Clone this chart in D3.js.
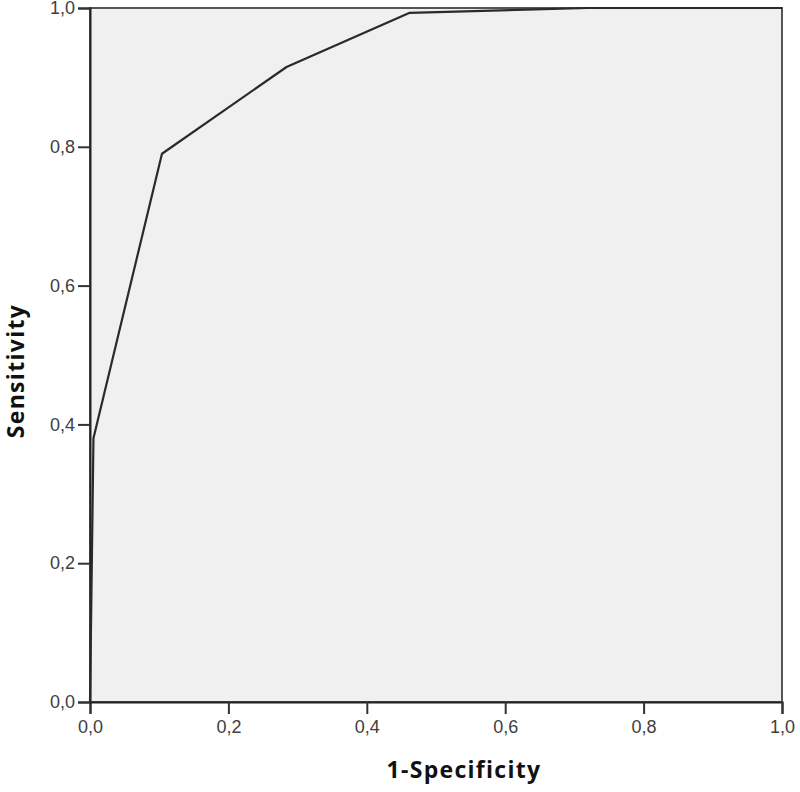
<!DOCTYPE html>
<html>
<head>
<meta charset="utf-8">
<script src="https://cdn.jsdelivr.net/npm/d3@7"></script>
<style>
  body { margin: 0; background: #fff; }
</style>
</head>
<body>
<div id="chart"></div>
<script>
// ROC curve points
var fpr = [0, 0.005, 0.104, 0.284, 0.462, 0.72, 1.0];
var tpr = [0, 0.38, 0.79, 0.915, 0.993, 1.0, 1.0];
var tick_values = [0, 0.2, 0.4, 0.6, 0.8, 1.0];
var x_title = "1-Specificity";
var y_title = "Sensitivity";

var W = 800, H = 792;
var margin = ({top: 8, right: 18, bottom: 90, left: 90});

var x = d3.scaleLinear()
    .domain([0, 1])
    .range([margin.left, W - margin.right]);
var y = d3.scaleLinear()
    .domain([0, 1])
    .range([H - margin.bottom, margin.top]);

var fmt = d => d3.format(".1f")(d).replace(".", ",");

const svg = d3.select("#chart")
    .append("svg")
    .attr("width", W)
    .attr("height", H)
    .attr("viewBox", [0, 0, W, H]);

// plot background + frame
svg.append("rect")
    .attr("x", x(0))
    .attr("y", y(1))
    .attr("width", x(1) - x(0))
    .attr("height", y(0) - y(1))
    .attr("fill", "#f0f0f0")
    .attr("stroke", "#555")
    .attr("stroke-width", 2);

var styleTicks = g => g.selectAll(".tick text")
    .attr("fill", "#404040")
    .style("font-family", "'Liberation Sans', Arial, sans-serif")
    .style("font-size", "18px");

var xAxis = g => g
    .attr("transform", `translate(0,${y(0)})`)
    .call(d3.axisBottom(x).tickValues(tick_values).tickFormat(fmt).tickSize(12).tickPadding(6))
    .call(g => g.select(".domain").attr("stroke", "#222").attr("stroke-width", 2))
    .call(g => g.selectAll(".tick line").attr("stroke", "#333").attr("stroke-width", 2))
    .call(styleTicks);

var yAxis = g => g
    .attr("transform", `translate(${x(0)},0)`)
    .call(d3.axisLeft(y).tickValues(tick_values).tickFormat(fmt).tickSize(12).tickPadding(3))
    .call(g => g.select(".domain").attr("stroke", "#222").attr("stroke-width", 2))
    .call(g => g.selectAll(".tick line").attr("stroke", "#333").attr("stroke-width", 2))
    .call(styleTicks);

svg.append("g").call(xAxis);
svg.append("g").call(yAxis);

// curve
var pts = fpr.map((d, i) => [d, tpr[i]]);
svg.append("path")
    .datum(pts)
    .attr("fill", "none")
    .attr("stroke", "#2a2a2a")
    .attr("stroke-width", 2.2)
    .attr("stroke-linejoin", "round")
    .attr("d", d3.line().x(d => x(d[0])).y(d => y(d[1])));

// axis titles
svg.append("text")
    .attr("x", 464)
    .attr("y", 778)
    .attr("text-anchor", "middle")
    .style("font-family", "'Open Sans', sans-serif")
    .style("font-weight", "bold")
    .style("font-size", "23px")
    .style("letter-spacing", "1.3px")
    .attr("fill", "#111")
    .text(x_title);

svg.append("text")
    .attr("transform", "translate(24,371) rotate(-90)")
    .attr("text-anchor", "middle")
    .style("font-family", "'Open Sans', sans-serif")
    .style("font-weight", "bold")
    .style("font-size", "23px")
    .style("letter-spacing", "1.3px")
    .attr("fill", "#111")
    .text(y_title);
</script>
</body>
</html>
